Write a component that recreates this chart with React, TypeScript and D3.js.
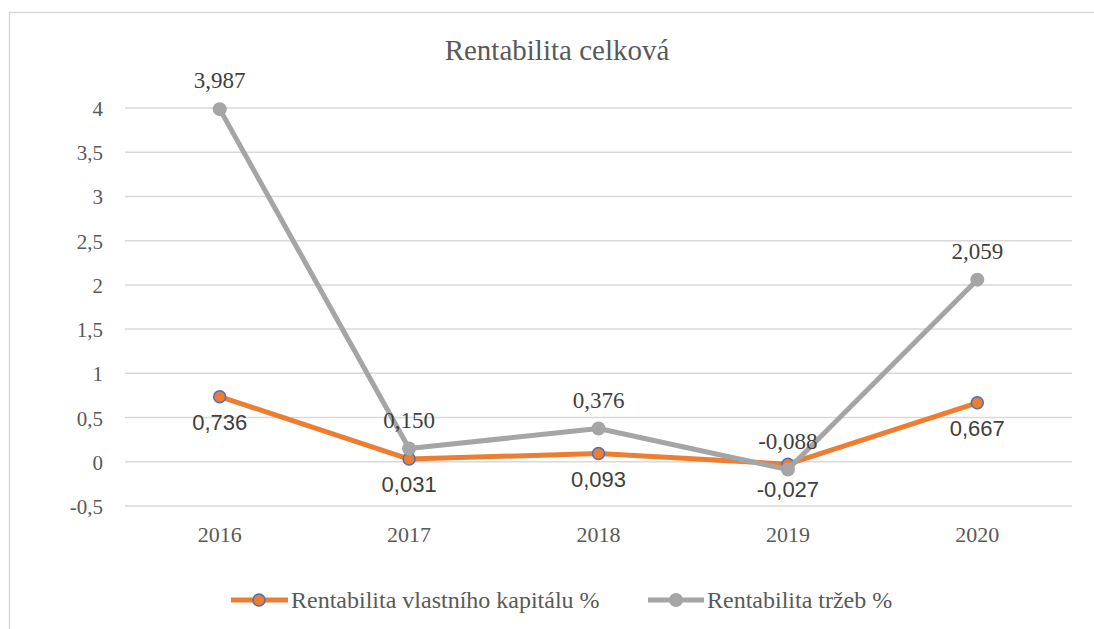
import React from "react";
import * as d3 from "d3";

const years = ["2016", "2017", "2018", "2019", "2020"];
const vlastniKapital = [0.736, 0.031, 0.093, -0.027, 0.667];
const trzby = [3.987, 0.15, 0.376, -0.088, 2.059];
const yTicks = [-0.5, 0, 0.5, 1, 1.5, 2, 2.5, 3, 3.5, 4];

const W = 1094;
const H = 629;
const serif = { fontFamily: "Liberation Serif, DejaVu Serif, serif" };
const sans = { fontFamily: "Liberation Sans, DejaVu Sans, sans-serif" };

const fmt = (v: number, d: number) => d3.format(`.${d}f`)(v).replace(".", ",").replace("−", "-");
const fmtTick = (v: number) => String(v).replace(".", ",");

export default function App() {
  const x = d3.scaleBand().domain(years).range([125, 1072]);
  const y = d3.scaleLinear().domain([-0.5, 4]).range([506, 108]);
  const cx = (yr: string) => (x(yr) as number) + x.bandwidth() / 2;

  const line = d3
    .line<number>()
    .x((_, i) => cx(years[i]))
    .y((d) => y(d));

  return (
    <svg width={W} height={H} style={{ position: "absolute", left: 0, top: 0, background: "#fff" }}>
      <rect x={9.5} y={12.5} width={W} height={H} fill="#fff" stroke="#d9d9d9" strokeWidth={1.5} />
      <text x={557} y={60} textAnchor="middle" style={serif} fontSize={29} fill="#595959">
        Rentabilita celková
      </text>
      {yTicks.map((t) => (
        <g key={t}>
          <line x1={125} x2={1072} y1={y(t)} y2={y(t)} stroke="#d9d9d9" strokeWidth={1.5} />
          <text x={103} y={y(t)} dy="0.38em" textAnchor="end" style={serif} fontSize={21} fill="#595959">
            {fmtTick(t)}
          </text>
        </g>
      ))}
      {years.map((yr) => (
        <text key={yr} x={cx(yr)} y={542} textAnchor="middle" style={serif} fontSize={22} fill="#595959">
          {yr}
        </text>
      ))}
      <path d={line(vlastniKapital) || ""} fill="none" stroke="#ED7D31" strokeWidth={5} strokeLinejoin="round" />
      {vlastniKapital.map((v, i) => (
        <circle key={i} cx={cx(years[i])} cy={y(v)} r={6} fill="#ED7D31" stroke="#4472C4" strokeWidth={1.5} />
      ))}
      <path d={line(trzby) || ""} fill="none" stroke="#A5A5A5" strokeWidth={5} strokeLinejoin="round" />
      {trzby.map((v, i) => (
        <circle key={i} cx={cx(years[i])} cy={y(v)} r={7} fill="#A5A5A5" />
      ))}
      {vlastniKapital.map((v, i) => (
        <text key={i} x={cx(years[i])} y={y(v) + 33} textAnchor="middle" style={sans} fontSize={22} fill="#404040">
          {fmt(v, 3)}
        </text>
      ))}
      {trzby.map((v, i) => (
        <text key={i} x={cx(years[i])} y={y(v) - 21} textAnchor="middle" style={serif} fontSize={23} fill="#404040">
          {fmt(v, 3)}
        </text>
      ))}
      <g>
        <line x1={231} x2={288} y1={600} y2={600} stroke="#ED7D31" strokeWidth={5} />
        <circle cx={259} cy={600} r={6} fill="#ED7D31" stroke="#4472C4" strokeWidth={1.5} />
        <text x={291} y={600} dy="0.35em" style={serif} fontSize={24} fill="#595959">
          Rentabilita vlastního kapitálu %
        </text>
        <line x1={648} x2={704} y1={600} y2={600} stroke="#A5A5A5" strokeWidth={5} />
        <circle cx={676} cy={600} r={7} fill="#A5A5A5" />
        <text x={707} y={600} dy="0.35em" style={serif} fontSize={24} fill="#595959">
          Rentabilita tržeb %
        </text>
      </g>
    </svg>
  );
}
